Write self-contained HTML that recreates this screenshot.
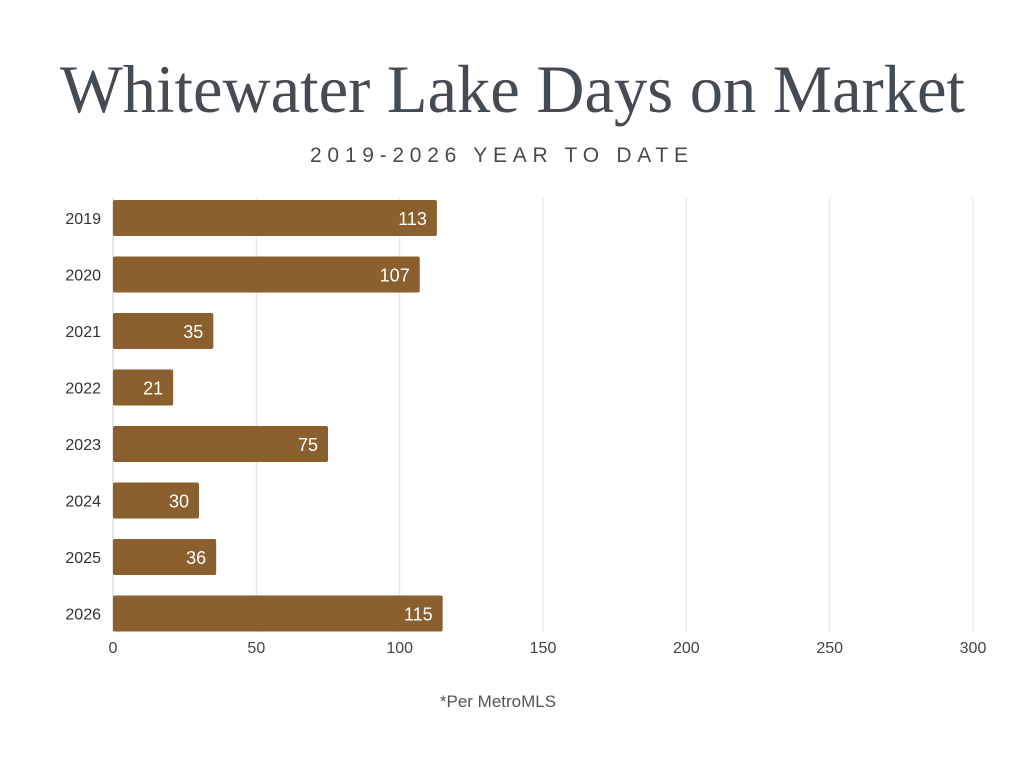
<!DOCTYPE html>
<html><head><meta charset="utf-8"><style>
body{margin:0;background:#fff}
svg text{font-family:"Liberation Sans",sans-serif}
</style></head><body>
<svg id="c" width="1024" height="768" viewBox="0 0 1024 768" xmlns="http://www.w3.org/2000/svg">
<rect width="1024" height="768" fill="#fff"/>
<text x="60" y="112" font-size="68" fill="#454b52" textLength="905" lengthAdjust="spacingAndGlyphs" style="font-family:'Liberation Serif',serif">Whitewater Lake Days on Market</text>
<text x="310" y="162" font-size="21" fill="#454b52" textLength="378" lengthAdjust="spacing">2019-2026 YEAR TO DATE</text>
<g id="grid"></g>
<g id="bars"></g>
<g id="xticks"></g>
<text x="498" y="707" font-size="17" fill="#555" text-anchor="middle">*Per MetroMLS</text>
</svg>
<script>
const categories=["2019","2020","2021","2022","2023","2024","2025","2026"];
const values=[113,107,35,21,75,30,36,115];
const ticks=[0,50,100,150,200,250,300];
const NS="http://www.w3.org/2000/svg";
const x0=113,x1=973,xmax=300,top0=200,step=56.5,bh=36;
function xs(v){return x0+(x1-x0)*v/xmax;}
function ys(i){return top0+i*step;}
function mk(t,a,p){const e=document.createElementNS(NS,t);for(const k in a)e.setAttribute(k,a[k]);p.appendChild(e);return e;}
const g=document.getElementById('grid'),b=document.getElementById('bars'),xt=document.getElementById('xticks');
ticks.forEach(t=>{
 const l=mk('line',{x1:xs(t),x2:xs(t),y1:198,y2:632,stroke:t===0?'#c8c8c8':'#e0e0e0','stroke-width':1},g);
 
 
 const tx=mk('text',{x:xs(t),y:653,'font-size':16,fill:'#444','text-anchor':'middle'},xt);
 tx.textContent=t;
 
 
});
categories.forEach((c,i)=>{
 const y=ys(i);
 const r=mk('rect',{x:x0,y:y,width:xs(values[i])-x0,height:bh,fill:'#8b602e',rx:2},b);
 
 
 const lb=mk('text',{x:101,y:y+bh/2+6,'font-size':16,fill:'#333','text-anchor':'end'},b);
 lb.textContent=c;
 
 
 const v=mk('text',{x:xs(values[i])-10,y:y+bh/2+7,'font-size':18,fill:'#fff','text-anchor':'end'},b);
 v.textContent=values[i];
 
 
});
</script>
</body></html>
